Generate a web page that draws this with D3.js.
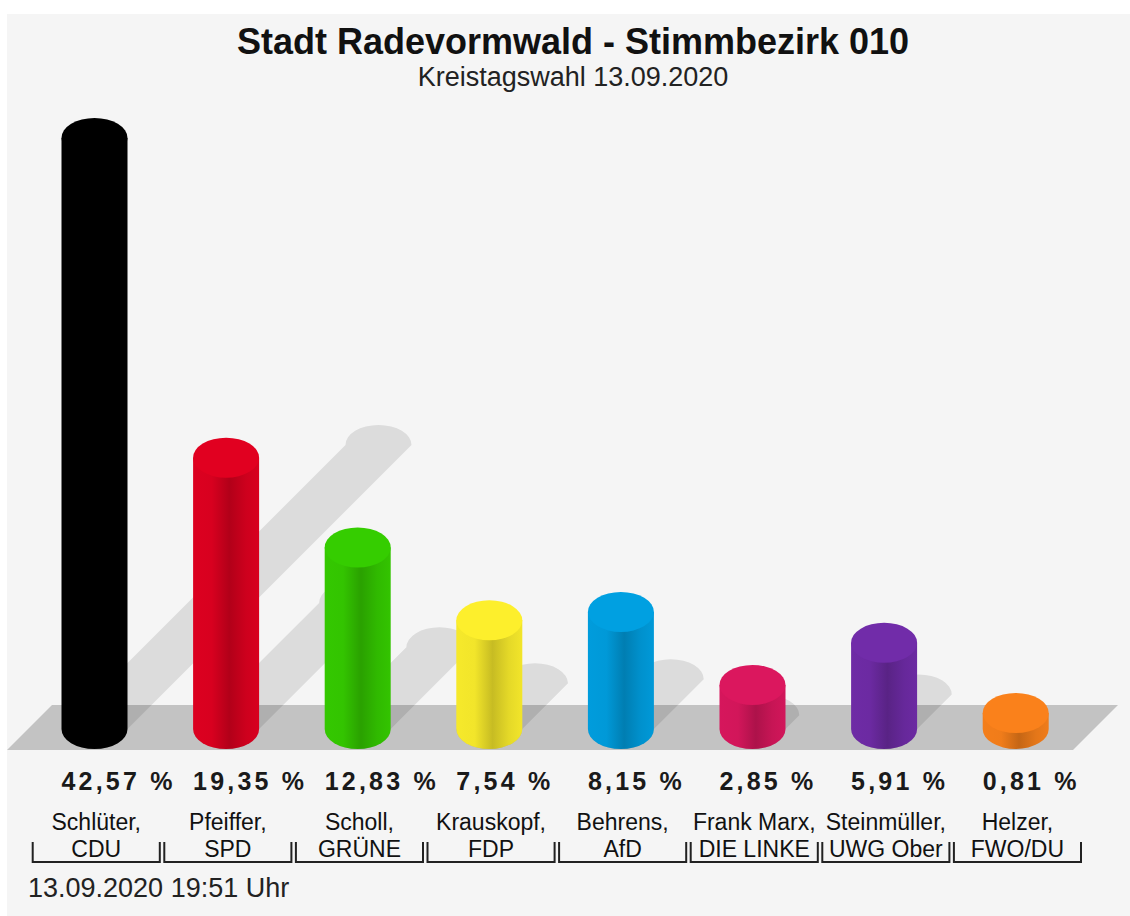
<!DOCTYPE html>
<html><head><meta charset="utf-8">
<script src="https://cdn.jsdelivr.net/npm/d3@7"></script>
<style>html,body{margin:0;padding:0;background:#fff}svg{display:block}</style>
</head><body>
<svg id="chart" width="1130" height="916"></svg>
<script>
const candidates = ["Schlüter,", "Pfeiffer,", "Scholl,", "Krauskopf,", "Behrens,", "Frank Marx,", "Steinmüller,", "Helzer,"];
const parties = ["CDU", "SPD", "GRÜNE", "FDP", "AfD", "DIE LINKE", "UWG Ober", "FWO/DU"];
const values = [42.57, 19.35, 12.83, 7.54, 8.15, 2.85, 5.91, 0.81];
const colors = ["#000000", "#d8001f", "#33c400", "#f2e52a", "#0099d8", "#d2165a", "#6c2aa2", "#f07c1a"];
const title = "Stadt Radevormwald - Stimmbezirk 010";
const subtitle = "Kreistagswahl 13.09.2020";
const timestamp = "13.09.2020 19:51 Uhr";

const svg = d3.select("#chart");
const defs = svg.append("defs");
const FONT = "'Liberation Sans', Arial, Helvetica, sans-serif";

// panel
svg.append("rect").attr("x", 7).attr("y", 14).attr("width", 1123).attr("height", 902).attr("fill", "#f5f5f5");

// scales
const x = d3.scaleBand().domain(parties).range([28.7, 28.7 + 8 * 131.6]).padding(0);
const step = x.step();
const cxOf = p => x(p) + step / 2;
const r = 33, ry = 20, y0 = 729;
const h = d3.scaleLinear().domain([0, d3.max(values)]).range([4.85, 591]);
const sh = d3.scaleLinear().domain([0, d3.max(values)]).range([-5.6, 284]);

const data = parties.map((p, i) => ({p, cand: candidates[i], v: values[i], c: colors[i], i}));

// floor
const floorTop = 705, floorBot = 750;
const floorPts = [[7, floorBot], [7 + (floorBot - floorTop), floorTop], [1118, floorTop], [1118 - (floorBot - floorTop), floorBot]];
svg.append("path").attr("d", d3.line()(floorPts) + "Z").attr("fill", "#c3c3c3");

// shadows (single union path per bar)
const shadowG = svg.append("g").attr("fill", "#000").attr("fill-opacity", 0.1);
data.forEach(d => {
  const L = Math.max(0, sh(d.v));
  if (L <= 0) return;
  const cx = cxOf(d.p);
  const dStr = `M${cx - r},${y0} L${cx - r + L},${y0 - L} A${r},${ry} 0 0 1 ${cx + r + L},${y0 - L} L${cx + r},${y0} A${r},${ry} 0 0 1 ${cx - r},${y0} Z`;
  shadowG.append("path").attr("d", dStr);
});

// gradients
data.forEach(d => {
  const base = d3.color(d.c);
  const grad = defs.append("linearGradient").attr("id", "g" + d.i).attr("x1", "0").attr("x2", "1").attr("y1", "0").attr("y2", "0");
  const stops = d.i === 0 ? [[0, base], [1, base]] : [
    [0, base.brighter(0.05)], [0.28, base], [0.55, base.darker(0.55)], [0.8, base.darker(0.15)], [1, base]
  ];
  stops.forEach(([o, c]) => grad.append("stop").attr("offset", o).attr("stop-color", c.formatHex()));
});

// cylinders
const barsG = svg.append("g");
data.forEach(d => {
  const cx = cxOf(d.p);
  const top = y0 - h(d.v);
  const g = barsG.append("g");
  const side = `M${cx - r},${top} L${cx - r},${y0} A${r},${ry} 0 0 0 ${cx + r},${y0} L${cx + r},${top} Z`;
  g.append("path").attr("d", side).attr("fill", `url(#g${d.i})`);
  g.append("ellipse").attr("cx", cx).attr("cy", top).attr("rx", r).attr("ry", ry)
    .attr("fill", d.i === 0 ? "#000" : d3.color(d.c).brighter(0.12).formatHex());
});

// percent labels
const fmt = v => d3.format(".2f")(v).replace(".", ",") + " %";
svg.append("g").selectAll("text").data(data).join("text")
  .attr("x", d => cxOf(d.p) - r)
  .attr("y", 790)
  .attr("font-family", FONT).attr("font-weight", "bold").attr("font-size", 25)
  .attr("letter-spacing", 3.2)
  .attr("fill", "#1a1a1a")
  .text(d => fmt(d.v));

// category labels with brackets
const labG = svg.append("g");
data.forEach(d => {
  const left = x(d.p) + 4, right = x(d.p) + step - 0.5;
  const mid = (left + right) / 2;
  const cid = "clip" + d.i;
  defs.append("clipPath").attr("id", cid).append("rect")
    .attr("x", left + 1).attr("y", 800).attr("width", right - left - 2).attr("height", 70);
  const g = labG.append("g");
  const tg = g.append("g").attr("clip-path", `url(#${cid})`);
  tg.append("text").attr("x", mid).attr("y", 830).attr("text-anchor", "middle")
    .attr("font-family", FONT).attr("font-size", 23).attr("fill", "#111").text(d.cand);
  tg.append("text").attr("x", mid).attr("y", 857).attr("text-anchor", "middle")
    .attr("font-family", FONT).attr("font-size", 23).attr("fill", "#111").text(d.p);
  g.append("path").attr("d", `M${left},842 L${left},862 L${right},862 L${right},842`)
    .attr("fill", "none").attr("stroke", "#222").attr("stroke-width", 2);
});

// titles
svg.append("text").attr("x", 573).attr("y", 54).attr("text-anchor", "middle")
  .attr("font-family", FONT).attr("font-weight", "bold").attr("font-size", 36).attr("fill", "#111").text(title);
svg.append("text").attr("x", 573).attr("y", 86).attr("text-anchor", "middle")
  .attr("font-family", FONT).attr("font-size", 27).attr("fill", "#222").text(subtitle);
svg.append("text").attr("x", 28).attr("y", 897)
  .attr("font-family", FONT).attr("font-size", 27).attr("fill", "#222").text(timestamp);
</script>
</body></html>
